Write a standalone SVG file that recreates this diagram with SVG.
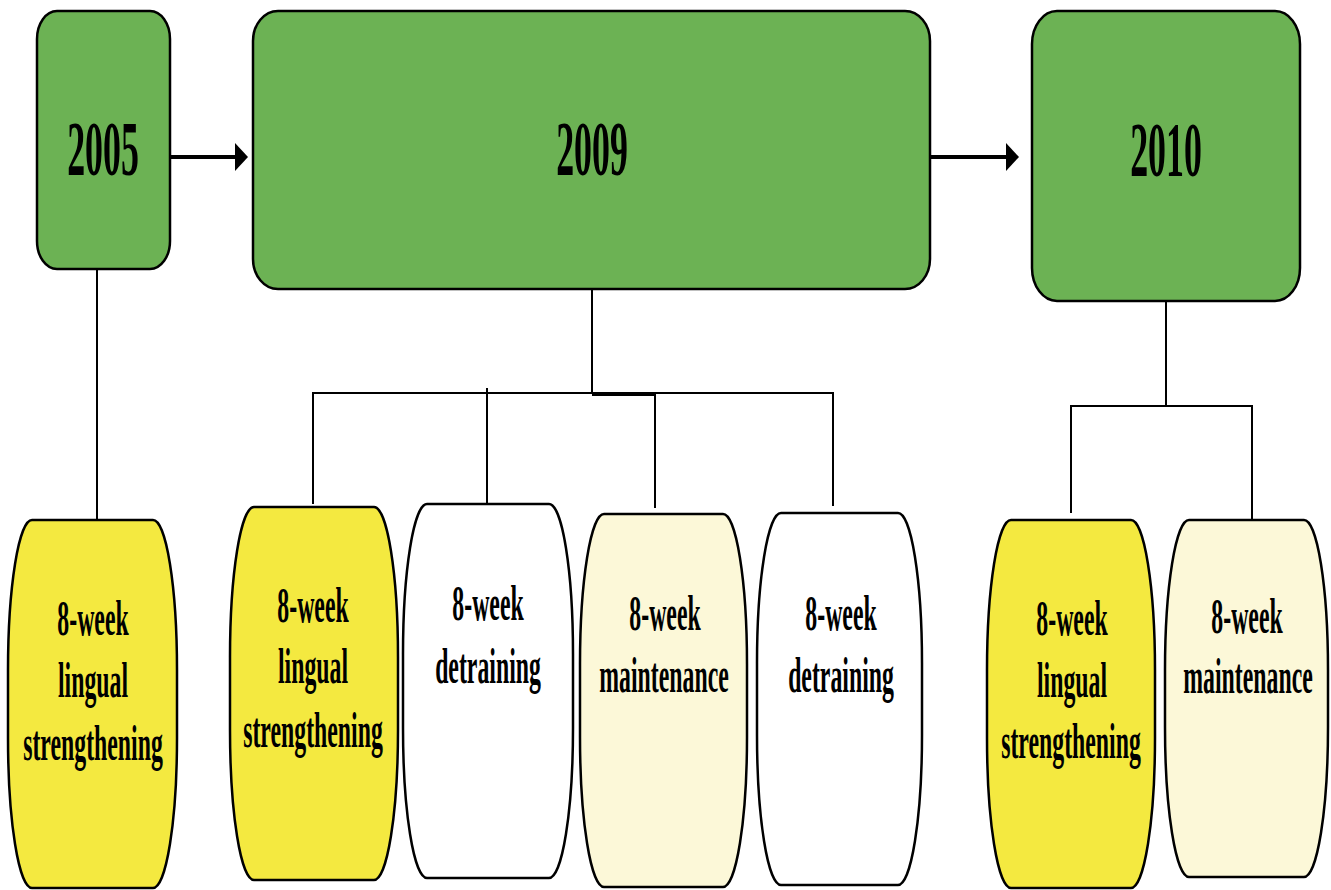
<svg xmlns="http://www.w3.org/2000/svg" width="1331" height="890" viewBox="0 0 1331 890">
<style>
.yr{fill:#6cb254;stroke:#000;stroke-width:2.5}
.bar{stroke:#000;stroke-width:2.5}
.ylw{fill:#f4e940}
.crm{fill:#fcf8d8}
.wht{fill:#ffffff}
.t{font-family:"Liberation Serif","Times New Roman",serif;font-weight:bold;fill:#000;text-anchor:middle}
.big{font-size:78px}
.sm{font-size:50px}
.ln{stroke:#000;stroke-width:2;fill:none}
.ar{stroke:#000;stroke-width:4;fill:none}
</style>
<defs>
<marker id="ah" markerUnits="userSpaceOnUse" markerWidth="13" markerHeight="28" refX="0" refY="14" orient="auto">
<path d="M0,0 L13,14 L0,28 Z" fill="#000"/>
</marker>
</defs>
<rect width="1331" height="890" fill="#fff"/>
<g id="connectors">
<line class="ar" x1="170" y1="157" x2="235" y2="157" marker-end="url(#ah)"/>
<line class="ar" x1="930" y1="157" x2="1006" y2="157" marker-end="url(#ah)"/>
<line class="ln" x1="97" y1="270" x2="97" y2="520"/>
<line class="ln" x1="592" y1="283" x2="592" y2="394"/>
<line class="ln" x1="313" y1="393" x2="833" y2="393" stroke-width="3"/>
<line class="ln" x1="592" y1="395" x2="655" y2="395" stroke-width="4"/>
<line class="ln" x1="313" y1="392" x2="313" y2="504"/>
<line class="ln" x1="487" y1="388" x2="487" y2="504"/>
<line class="ln" x1="655" y1="393" x2="655" y2="508"/>
<line class="ln" x1="833" y1="392" x2="833" y2="506"/>
<line class="ln" x1="1166" y1="302" x2="1166" y2="407" stroke-width="2.5"/>
<line class="ln" x1="1071" y1="406" x2="1252" y2="406" stroke-width="3"/>
<line class="ln" x1="1071" y1="405" x2="1071" y2="513" stroke-width="2.5"/>
<line class="ln" x1="1252" y1="405" x2="1252" y2="520" stroke-width="2.5"/>
</g>
<g id="n2005">
<rect class="yr" x="37" y="11" width="133" height="258" rx="20" ry="28"/>
<text class="t big" transform="translate(103,175) scale(0.46,1)">2005</text>
</g>
<g id="n2009">
<rect class="yr" x="253" y="11" width="677" height="278" rx="25" ry="30"/>
<text class="t big" transform="translate(592,175) scale(0.46,1)">2009</text>
</g>
<g id="n2010">
<rect class="yr" x="1032" y="11" width="268" height="290" rx="25" ry="33"/>
<text class="t big" transform="translate(1166,176) scale(0.46,1)">2010</text>
</g>
<g id="a2005">
<rect class="bar ylw" x="8" y="520" width="169" height="368" rx="24" ry="150"/>
<text class="t sm" transform="translate(93,635) scale(0.476,1)">8-week</text>
<text class="t sm" transform="translate(93,697) scale(0.476,1)">lingual</text>
<text class="t sm" transform="translate(93,760) scale(0.476,1)">strengthening</text>
</g>
<g id="b2009">
<rect class="bar ylw" x="230" y="507" width="168" height="373" rx="24" ry="150"/>
<text class="t sm" transform="translate(313,622) scale(0.476,1)">8-week</text>
<text class="t sm" transform="translate(313,683) scale(0.476,1)">lingual</text>
<text class="t sm" transform="translate(313,747) scale(0.476,1)">strengthening</text>
</g>
<g id="c2009">
<rect class="bar wht" x="403" y="504" width="170" height="374" rx="24" ry="150"/>
<text class="t sm" transform="translate(488,620) scale(0.476,1)">8-week</text>
<text class="t sm" transform="translate(488,683) scale(0.476,1)">detraining</text>
</g>
<g id="d2009">
<rect class="bar crm" x="580" y="514" width="167" height="373" rx="24" ry="150"/>
<text class="t sm" transform="translate(665,630) scale(0.476,1)">8-week</text>
<text class="t sm" transform="translate(664,692) scale(0.476,1)">maintenance</text>
</g>
<g id="e2009">
<rect class="bar wht" x="757" y="513" width="165" height="372" rx="24" ry="150"/>
<text class="t sm" transform="translate(841,630) scale(0.476,1)">8-week</text>
<text class="t sm" transform="translate(841,692) scale(0.476,1)">detraining</text>
</g>
<g id="f2010">
<rect class="bar ylw" x="987" y="520" width="168" height="368" rx="24" ry="150"/>
<text class="t sm" transform="translate(1072,635) scale(0.476,1)">8-week</text>
<text class="t sm" transform="translate(1072,697) scale(0.476,1)">lingual</text>
<text class="t sm" transform="translate(1071,758) scale(0.476,1)">strengthening</text>
</g>
<g id="g2010">
<rect class="bar crm" x="1165" y="520" width="163" height="357" rx="24" ry="150"/>
<text class="t sm" transform="translate(1247,633) scale(0.476,1)">8-week</text>
<text class="t sm" transform="translate(1248,693) scale(0.476,1)">maintenance</text>
</g>
</svg>
